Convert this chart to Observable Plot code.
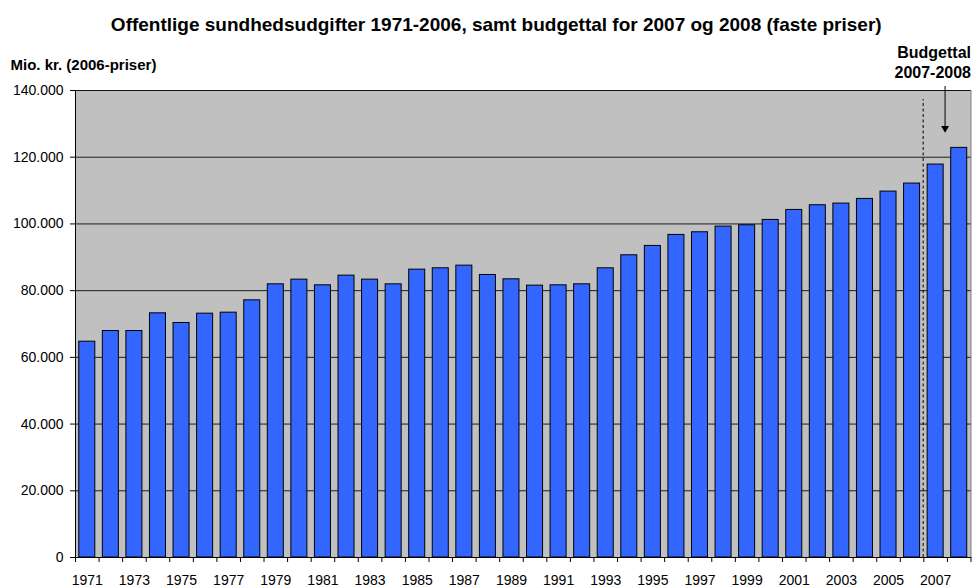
<!DOCTYPE html>
<html><head><meta charset="utf-8">
<script src="https://cdn.jsdelivr.net/npm/d3@7"></script>
<script src="https://cdn.jsdelivr.net/npm/@observablehq/plot@0.6"></script>
<style>
body{margin:0;background:#fff}
#chart svg{font-family:"Liberation Sans",Arial,sans-serif}
</style>
</head><body><div id="chart"></div>
<script>
const years = [1971,1972,1973,1974,1975,1976,1977,1978,1979,1980,1981,1982,1983,1984,1985,1986,1987,1988,1989,1990,1991,1992,1993,1994,1995,1996,1997,1998,1999,2000,2001,2002,2003,2004,2005,2006,2007,2008];
const values = [64700,67900,67900,73200,70300,73100,73400,77100,81900,83300,81600,84500,83300,81900,86300,86700,87500,84700,83400,81500,81600,81900,86700,90600,93400,96700,97500,99200,99600,101200,104200,105600,106100,107500,109700,112100,117800,122800];
const labelYears = [1971,1973,1975,1977,1979,1981,1983,1985,1987,1989,1991,1993,1995,1997,1999,2001,2003,2005,2007];
const yTicks = [0,20000,40000,60000,80000,100000,120000,140000];
const title = "Offentlige sundhedsudgifter 1971-2006, samt budgettal for 2007 og 2008 (faste priser)";
const yLabel = "Mio. kr. (2006-priser)";
const budgetLabel = "Budgettal\n2007-2008";
const budgetDivider = 2006.47;
const dividerTop = 137300;
const budgetArrowX = 2007.4;
const arrowTop = 140000;
const arrowTip = 127300;

const data = years.map((year, i) => ({year, value: values[i]}));
const boundaries = years.map(y => y - 0.5).concat([years[years.length - 1] + 0.5]);
const fmt = d3.formatLocale({decimal: ",", thousands: ".", grouping: [3], currency: ["", ""]}).format(",");

const chart = Plot.plot({
  width: 976,
  height: 588,
  marginTop: 90,
  marginBottom: 31,
  marginLeft: 75,
  marginRight: 5.5,
  style: {fontFamily: "'Liberation Sans', Arial, sans-serif", fontSize: "14px", color: "#000", background: "#fff"},
  x: {type: "linear", domain: [boundaries[0], boundaries[boundaries.length - 1]], label: null},
  y: {domain: [0, 140000], label: null},
  marks: [
    Plot.frame({fill: "#c0c0c0", stroke: "#808080"}),
    Plot.gridY(yTicks, {stroke: "#000", strokeOpacity: 0.85}),
    Plot.rectY(data, {x1: d => d.year - 0.34, x2: d => d.year + 0.34, y: "value", fill: "#3366ff", stroke: "#000", strokeWidth: 1}),
    Plot.ruleX([budgetDivider], {y1: 0, y2: dividerTop, stroke: "#000", strokeDasharray: "3,2.5"}),
    Plot.ruleX([budgetArrowX], {y1: arrowTop, y2: arrowTip, stroke: "#000", dy: -4}),
    Plot.dot([budgetArrowX], {x: d => d, y: arrowTip, symbol: "triangle2", rotate: 180, r: 3.8, fill: "#000", stroke: "none", dy: -4.6}),
    Plot.ruleX([boundaries[0]], {stroke: "#000"}),
    Plot.ruleY([0], {stroke: "#000"}),
    Plot.axisY(yTicks, {tickFormat: fmt, tickSize: 5, tickPadding: 7, fontSize: 14, label: null}),
    Plot.axisX(boundaries, {tickFormat: () => "", tickSize: 5, label: null}),
    Plot.axisX(labelYears, {tickFormat: d => String(d), tickSize: 0, tickPadding: 18, fontSize: 14, label: null}),
    Plot.text([title], {text: d => d, frameAnchor: "top", lineAnchor: "bottom", dx: -27, dy: -60, fontWeight: "bold", fontSize: 19}),
    Plot.text([yLabel], {text: d => d, frameAnchor: "top-left", textAnchor: "start", lineAnchor: "bottom", dx: -65, dy: -21, fontWeight: "bold", fontSize: 15}),
    Plot.text([budgetLabel], {text: d => d, frameAnchor: "top-right", textAnchor: "end", lineAnchor: "bottom", dy: -13, lineHeight: 1.2, fontWeight: "bold", fontSize: 16})
  ]
});
document.getElementById("chart").appendChild(chart);
</script>
</body></html>
